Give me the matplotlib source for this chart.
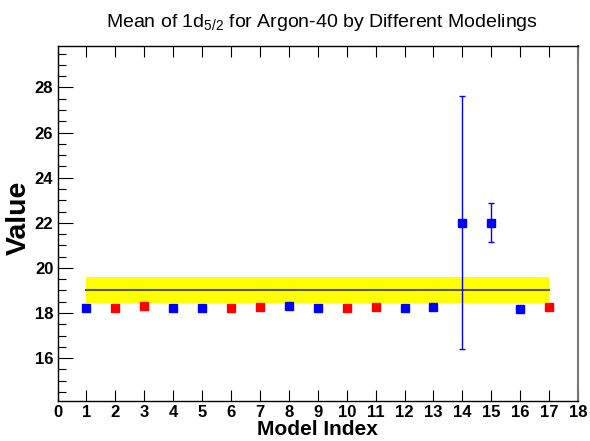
import matplotlib
matplotlib.use("Agg")
import matplotlib.pyplot as plt
from matplotlib.ticker import MultipleLocator

plt.rcParams['font.family'] = ['Liberation Sans', 'DejaVu Sans']
plt.rcParams['mathtext.fontset'] = 'custom'
plt.rcParams['mathtext.rm'] = 'Liberation Sans'
plt.rcParams['mathtext.it'] = 'Liberation Sans'

# data
model_index = [1, 2, 3, 4, 5, 6, 7, 8, 9, 10, 11, 12, 13, 14, 15, 16, 17]
values = [18.24, 18.23, 18.31, 18.24, 18.24, 18.24, 18.28, 18.29, 18.24,
          18.24, 18.28, 18.24, 18.28, 22.0, 22.0, 18.19, 18.28]
errors = [0, 0, 0, 0, 0, 0, 0, 0, 0, 0, 0, 0, 0, 5.61, 0.86, 0, 0]
colors = ['blue', 'red', 'red', 'blue', 'blue', 'red', 'red', 'blue', 'blue',
          'red', 'red', 'blue', 'blue', 'blue', 'blue', 'blue', 'red']
band_x = [1, 17]
band_mean = 19.01
band_halfwidth = 0.58

fig = plt.figure(figsize=(5.9, 4.41), dpi=100)
ax = fig.add_axes([0.0975, 0.0907, 0.8822, 0.8057])

ax.fill_between(band_x, band_mean - band_halfwidth, band_mean + band_halfwidth,
                color='#ffff00', lw=0, zorder=1)
ax.plot(band_x, [band_mean, band_mean], color='#5a5a00', lw=1.5, zorder=2)

for x, y, e, c in zip(model_index, values, errors, colors):
    if e > 0:
        ax.errorbar([x], [y], yerr=[e], fmt='none', ecolor=c, elinewidth=1.0,
                    capsize=2.0, capthick=1.0, zorder=3)
    ax.plot([x], [y], marker='s', ms=5.8, color=c, mec=c, ls='none', zorder=4)

ax.set_xlim(0, 18)
ax.set_ylim(14.1, 29.85)
ax.xaxis.set_major_locator(MultipleLocator(1))
ax.yaxis.set_minor_locator(MultipleLocator(0.5))
ax.set_yticks([16, 18, 20, 22, 24, 26, 28])

ax.tick_params(axis='x', which='major', direction='in', length=8, width=0.8,
               top=True, bottom=True, labelsize=12, pad=3)
ax.tick_params(axis='y', which='major', direction='in', length=11, width=0.8,
               left=True, right=False, labelsize=12, pad=3)
ax.tick_params(axis='y', which='minor', direction='in', length=6, width=0.8,
               left=True, right=False)
for lab in ax.get_xticklabels() + ax.get_yticklabels():
    lab.set_fontweight('bold')

for s in ax.spines.values():
    s.set_linewidth(1.0)
    s.set_color('black')
ax.spines['right'].set_color('#777777')
ax.spines['right'].set_linewidth(1.5)

ax.set_xlabel('Model Index', fontsize=15, fontweight='bold', labelpad=0)
ax.set_ylabel('Value', fontsize=20.5, fontweight='bold')
ax.yaxis.set_label_coords(-0.049, 0.515)
fig.text(0.545, 0.948, r'Mean of 1d$_{5/2}$ for Argon-40 by Different Modelings',
         ha='center', va='center', fontsize=14)

fig.savefig('out.png', dpi=100)
